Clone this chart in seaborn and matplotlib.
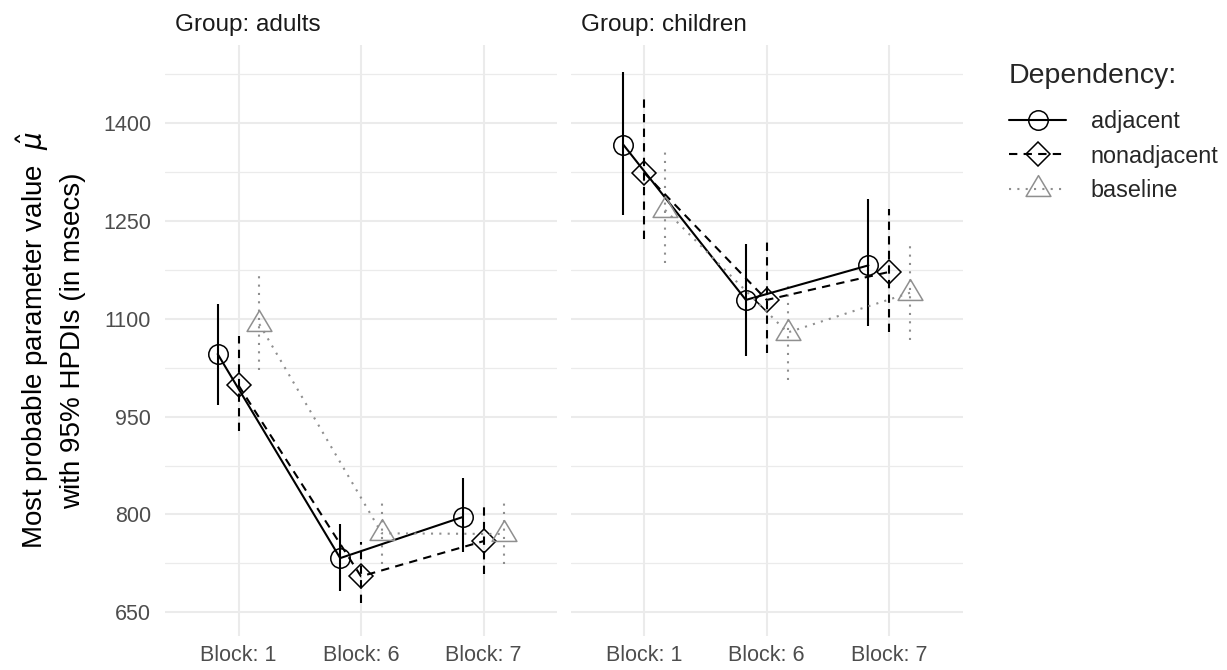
import numpy as np
import pandas as pd
import matplotlib
matplotlib.use("Agg")
import matplotlib.pyplot as plt
from matplotlib.lines import Line2D
from matplotlib.path import Path
import seaborn as sns

# ---------------- data ----------------
blocks = ["Block: 1", "Block: 6", "Block: 7"]
groups = ["adults", "children"]
dependencies = ["adjacent", "nonadjacent", "baseline"]

adults_adjacent_mu = [1046, 733, 796]
adults_adjacent_lo = [968, 682, 743]
adults_adjacent_hi = [1122, 785, 856]
adults_nonadjacent_mu = [998, 705, 759]
adults_nonadjacent_lo = [928, 664, 708]
adults_nonadjacent_hi = [1074, 757, 818]
adults_baseline_mu = [1092, 771, 770]
adults_baseline_lo = [1021, 724, 724]
adults_baseline_hi = [1169, 819, 819]

children_adjacent_mu = [1367, 1129, 1182]
children_adjacent_lo = [1259, 1043, 1089]
children_adjacent_hi = [1479, 1215, 1284]
children_nonadjacent_mu = [1324, 1129, 1172]
children_nonadjacent_lo = [1223, 1048, 1080]
children_nonadjacent_hi = [1437, 1221, 1268]
children_baseline_mu = [1267, 1079, 1140]
children_baseline_lo = [1185, 1006, 1068]
children_baseline_hi = [1361, 1153, 1216]

y_major_ticks = [650, 800, 950, 1100, 1250, 1400]

series = {
    ("adults", "adjacent"): (adults_adjacent_mu, adults_adjacent_lo, adults_adjacent_hi),
    ("adults", "nonadjacent"): (adults_nonadjacent_mu, adults_nonadjacent_lo, adults_nonadjacent_hi),
    ("adults", "baseline"): (adults_baseline_mu, adults_baseline_lo, adults_baseline_hi),
    ("children", "adjacent"): (children_adjacent_mu, children_adjacent_lo, children_adjacent_hi),
    ("children", "nonadjacent"): (children_nonadjacent_mu, children_nonadjacent_lo, children_nonadjacent_hi),
    ("children", "baseline"): (children_baseline_mu, children_baseline_lo, children_baseline_hi),
}

rows = []
for (g, d), (mu, lo, hi) in series.items():
    for b, m, l, h in zip(blocks, mu, lo, hi):
        rows.append({"group": g, "dependency": d, "block": b, "mu": m, "lo": l, "hi": h})
df = pd.DataFrame(rows)

# ---------------- style ----------------
sns.set_theme(style="white")
plt.rcParams["font.family"] = ["Liberation Sans", "DejaVu Sans"]
plt.rcParams["mathtext.fontset"] = "dejavusans"

GREY = "#8F8F8F"
palette = {"adjacent": "black", "nonadjacent": "black", "baseline": GREY}
LW = 1.5
tri = Path([(0, 14), (-12.5, -7), (12.5, -7), (0, 14)],
           [Path.MOVETO, Path.LINETO, Path.LINETO, Path.CLOSEPOLY])
markers = ["o", "D", tri]
marker_sizes = {"adjacent": 14.0, "nonadjacent": 12.2, "baseline": 20.0}
linestyles = ["-", (0, (4, 3)), (0, (1, 3))]
ls_map = dict(zip(dependencies, linestyles))
mk_map = dict(zip(dependencies, markers))

W, H = 1227, 670
fig = plt.figure(figsize=(W / 100, H / 100), dpi=100)
ax_bottom = 34.3 / H
ax_height = 590.7 / H
ax_w = 392 / W
axes = [fig.add_axes([165 / W, ax_bottom, ax_w, ax_height]),
        fig.add_axes([570.7 / W, ax_bottom, ax_w, ax_height])]

for ax, g in zip(axes, groups):
    sub = df[df["group"] == g]
    sns.pointplot(data=sub, x="block", y="mu", hue="dependency",
                  order=blocks, hue_order=dependencies, palette=palette,
                  dodge=0.34, errorbar=None, markers=markers,
                  linestyles=linestyles, legend=False, ax=ax,
                  linewidth=LW, markersize=13.5, markeredgewidth=1.1,
                  markerfacecolor="none")
    lines = list(ax.lines)
    for line, d in zip(lines, dependencies):
        line.set_markersize(marker_sizes[d])
        line.set_zorder(3)
        s = sub[sub["dependency"] == d].set_index("block").loc[blocks]
        xs = line.get_xdata()
        ax.vlines(xs, s["lo"].values, s["hi"].values, colors=palette[d],
                  linestyles=[ls_map[d]], linewidth=LW, zorder=2)

    ax.set_ylim(614, 1520)
    ax.set_xlim(-0.6, 2.6)
    ax.set_yticks(y_major_ticks)
    ax.set_yticks([725, 875, 1025, 1175, 1325, 1475], minor=True)
    ax.grid(True, which="major", color="#EBEBEB", linewidth=1.5)
    ax.grid(True, which="minor", axis="y", color="#EBEBEB", linewidth=0.9)
    ax.set_axisbelow(True)
    for sp in ax.spines.values():
        sp.set_visible(False)
    ax.tick_params(axis="both", which="both", length=0, labelsize=15.5,
                   labelcolor="#4D4D4D")
    ax.tick_params(axis="x", pad=7)
    ax.tick_params(axis="y", pad=10)
    ax.set_xlabel("")
    ax.set_ylabel("")
    ax.text(10 / 392, 1 + 9 / 590.7, f"Group: {g}", transform=ax.transAxes,
            ha="left", va="bottom", fontsize=17.5, color="#1A1A1A")

axes[1].tick_params(axis="y", labelleft=False)
axes[0].set_ylabel("Most probable parameter value  $\\hat{\\mu}$\nwith 95% HPDIs (in msecs)",
                   fontsize=20, linespacing=1.45, labelpad=12, color="black",
                   multialignment="center")

handles = [Line2D([], [], color=palette[d], linestyle=ls_map[d], linewidth=LW,
                  marker=mk_map[d], markersize=marker_sizes[d],
                  markerfacecolor="none", markeredgewidth=1.1)
           for d in dependencies]
leg = fig.legend(handles, dependencies, title="Dependency:", loc="upper left",
                 bbox_to_anchor=(1009 / W, 1 - 63 / H), frameon=False,
                 fontsize=16.8, title_fontsize=20.5, handlelength=2.45,
                 handletextpad=1.05, labelspacing=0.5, borderpad=0,
                 borderaxespad=0, alignment="left")
leg._legend_box.sep = 15

fig.savefig("out.png", dpi=100, facecolor="white")
